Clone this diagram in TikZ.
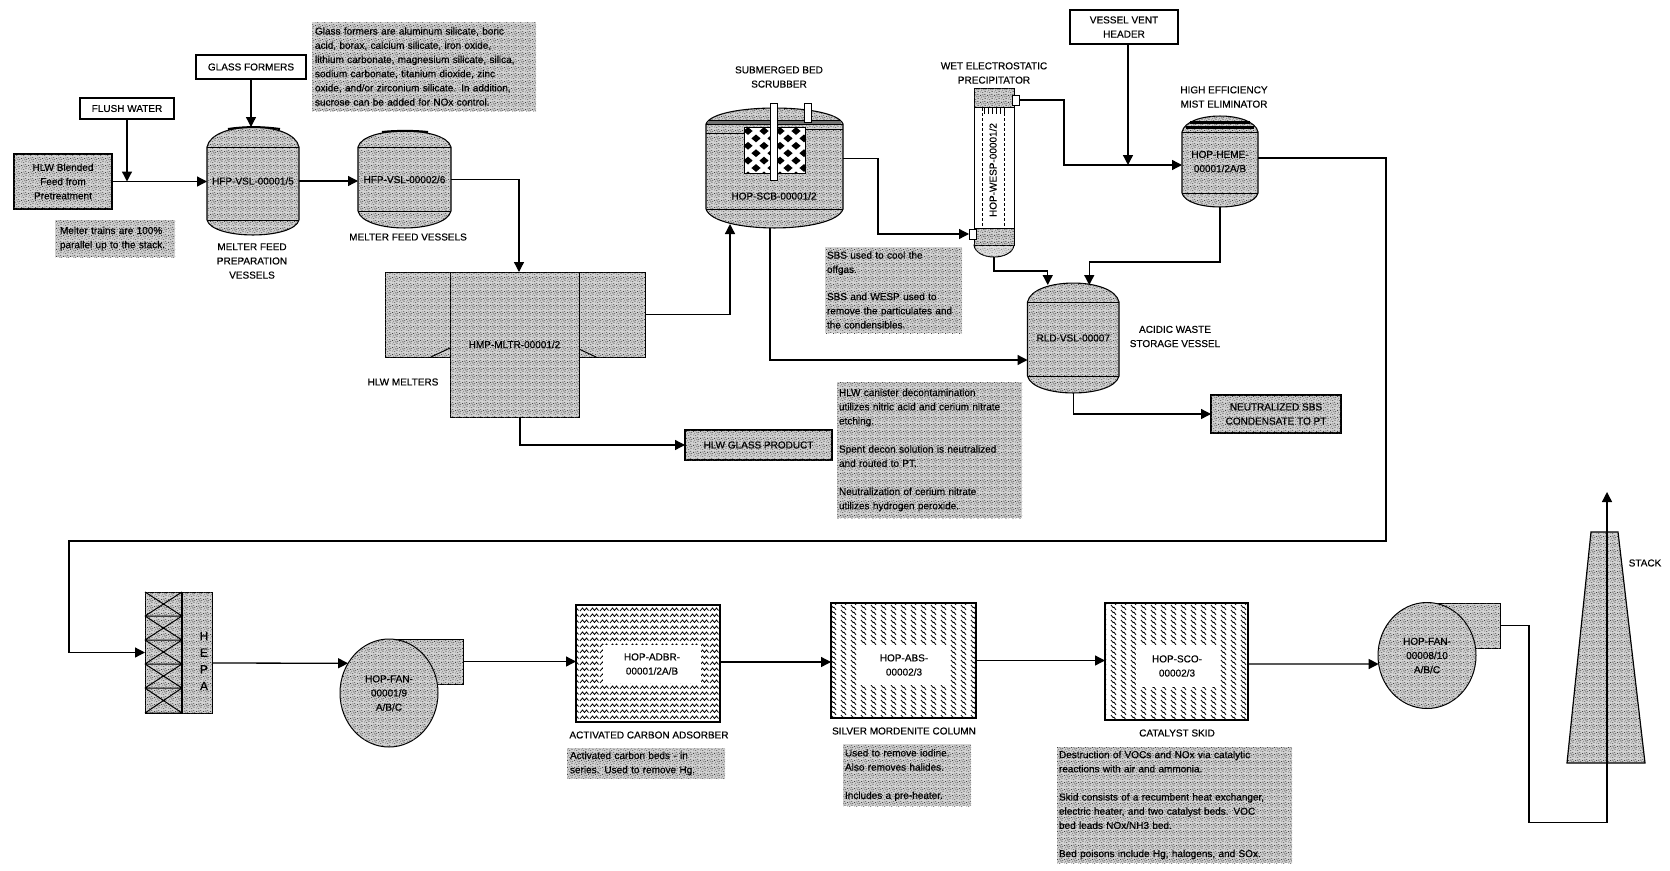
\documentclass[tikz,border=0pt]{standalone}
\usepackage{fontspec}
\setmainfont[FakeBold=0.35]{Liberation Sans}
\usetikzlibrary{arrows.meta,patterns,shapes.geometric,calc}
\definecolor{stipbase}{gray}{0.82}
\definecolor{lightbase}{gray}{0.88}
\pgfdeclarepatternformonly{speck}{\pgfqpoint{0pt}{0pt}}{\pgfqpoint{7pt}{7pt}}{\pgfqpoint{7pt}{7pt}}{%
  \pgfpathrectangle{\pgfqpoint{0.3pt}{0.6pt}}{\pgfqpoint{1pt}{1pt}}%
  \pgfpathrectangle{\pgfqpoint{2.6pt}{0.1pt}}{\pgfqpoint{1pt}{1pt}}%
  \pgfpathrectangle{\pgfqpoint{5.2pt}{1.3pt}}{\pgfqpoint{1pt}{1pt}}%
  \pgfpathrectangle{\pgfqpoint{1.5pt}{2.6pt}}{\pgfqpoint{1pt}{1pt}}%
  \pgfpathrectangle{\pgfqpoint{3.9pt}{3.1pt}}{\pgfqpoint{1pt}{1pt}}%
  \pgfpathrectangle{\pgfqpoint{6.0pt}{3.6pt}}{\pgfqpoint{1pt}{1pt}}%
  \pgfpathrectangle{\pgfqpoint{0.2pt}{4.6pt}}{\pgfqpoint{1pt}{1pt}}%
  \pgfpathrectangle{\pgfqpoint{2.7pt}{5.1pt}}{\pgfqpoint{1pt}{1pt}}%
  \pgfpathrectangle{\pgfqpoint{4.9pt}{5.7pt}}{\pgfqpoint{1pt}{1pt}}%
  \pgfusepath{fill}}
\pgfdeclarepatternformonly{wavyH}{\pgfqpoint{-1pt}{-2pt}}{\pgfqpoint{11pt}{8pt}}{\pgfqpoint{10pt}{6pt}}{%
  \pgfsetlinewidth{0.8pt}%
  \pgfpathmoveto{\pgfqpoint{0pt}{1pt}}%
  \pgfpathlineto{\pgfqpoint{2.5pt}{4pt}}%
  \pgfpathlineto{\pgfqpoint{4.5pt}{1.5pt}}%
  \pgfpathlineto{\pgfqpoint{6.5pt}{4pt}}%
  \pgfpathlineto{\pgfqpoint{8.5pt}{1.5pt}}%
  \pgfusepath{stroke}}
\pgfdeclarepatternformonly{wavyV}{\pgfqpoint{-1pt}{-1pt}}{\pgfqpoint{11pt}{6pt}}{\pgfqpoint{10pt}{5pt}}{%
  \pgfsetlinewidth{0.8pt}%
  \pgfpathmoveto{\pgfqpoint{1pt}{5pt}}%
  \pgfpathlineto{\pgfqpoint{3pt}{2.5pt}}%
  \pgfpathlineto{\pgfqpoint{4pt}{2.8pt}}%
  \pgfpathlineto{\pgfqpoint{6pt}{0pt}}%
  \pgfusepath{stroke}}
\tikzset{
  txt/.style={font=\fontsize{10}{14.2}\selectfont,align=center,inner sep=0pt,outer sep=0pt},
  stipple/.style={fill=stipbase,postaction={pattern=speck,pattern color=black!75}},
  lightstip/.style={fill=lightbase,postaction={pattern=speck,pattern color=black!45}},
  sized/.style 2 args={minimum width=#1,minimum height=#2},
  plainbox/.style={txt,draw=black,line width=1.2pt,fill=white},
  heavybox/.style={txt,draw=black,line width=2.6pt,stipple},
  notebox/.style={font=\fontsize{10}{14.2}\selectfont,align=left,inner sep=0pt,outer sep=0pt,anchor=north west,stipple},
  equip/.style={txt,draw=black,line width=1pt,stipple},
  ghost/.style={txt},
  nozzle/.style={draw=black,line width=1pt,fill=white,inner sep=0pt,outer sep=0pt},
  flow/.style={draw=black,line width=1.3pt,-{Triangle[length=10pt,width=10pt]}},
  pipe/.style={draw=black,line width=1.3pt},
  hatchA/.style={txt,draw=black,line width=1.5pt,pattern=wavyH},
  hatchB/.style={txt,draw=black,line width=1.5pt,pattern=wavyV},
  clearbox/.style={txt,fill=white},
}
% name, x1, x2, ytop, yshoulder, yknuckle, ybottom, text
\newcommand{\vsl}[8]{%
  \path[draw=black,line width=1.1pt,stipple]
    (#2,#5) .. controls ({#2+0.06*(#3-#2)},{#5-(#5-#4)*1.33}) and ({#3-0.06*(#3-#2)},{#5-(#5-#4)*1.33}) .. (#3,#5)
    -- (#3,#6) .. controls ({#3-0.06*(#3-#2)},{#6+(#7-#6)*1.33}) and ({#2+0.06*(#3-#2)},{#6+(#7-#6)*1.33}) .. (#2,#6) -- cycle;
  \draw[line width=1pt] (#2,#5) -- (#3,#5) (#2,#6) -- (#3,#6);
  \node[ghost,sized={#3-#2}{#7-#4}] (#1) at ({(#2+#3)/2},{(#4+#7)/2}) {#8};
}
\begin{document}
\begin{tikzpicture}[x=1pt,y=-1pt]
\useasboundingbox[fill=white] (0,0) rectangle (1670,870);

% feed boxes
\node[plainbox,sized={110}{24}] (glass) at (251,67) {GLASS FORMERS};
\node[plainbox,sized={94}{21}] (flush) at (127,108.5) {FLUSH WATER};
\node[heavybox,sized={98}{55}] (hlw) at (63,181.5) {HLW Blended\\Feed from\\Pretreatment};
\node[notebox,sized={120}{37},text width=116pt] (n1) at (55,220) {\hspace*{3pt}Melter trains are 100\%\\\hspace*{3pt}parallel up to the stack.};
\node[notebox,sized={224}{89},text width=224pt] (n2) at (312,22) {\hspace*{3pt}Glass formers are aluminum silicate, boric\\\hspace*{3pt}acid, borax, calcium silicate, iron oxide,\\\hspace*{3pt}lithium carbonate, magnesium silicate, silica,\\\hspace*{3pt}sodium carbonate, titanium dioxide, zinc\\\hspace*{3pt}oxide, and/or zirconium silicate.  In addition,\\\hspace*{3pt}sucrose can be added for NOx control.};

% melter feed vessels
\vsl{hfpa}{207}{299}{127}{147}{220}{235}{HFP-VSL-00001/5}
\draw[line width=2pt] (228,129) .. controls (245,126.5) and (262,126.5) .. (280,129);
\vsl{hfpb}{358}{451}{131}{147}{211}{228}{HFP-VSL-00002/6}
\draw[line width=2pt] (382,132) .. controls (395,130.5) and (415,130.5) .. (428,132);
\node[txt] (l1) at (252,261) {MELTER FEED\\PREPARATION\\VESSELS};
\node[txt] (l2) at (408,237) {MELTER FEED VESSELS};

% melter
\node[equip,sized={260}{85}] (melterout) at (515,314.5) {};
\draw[line width=1pt] (431,357) -- (450,348) (579,349) -- (596,357);
\node[equip,sized={129}{145}] (melter) at (514.5,344.5) {HMP-MLTR-00001/2};
\node[txt] (l3) at (403,382) {HLW MELTERS};

% scrubber
\vsl{scrub}{706}{843}{108}{124}{209}{228}{}
\fill[black!55] (708,120) rectangle (841,124);
\draw[line width=.8pt] (708,120) -- (841,120);
\draw[line width=.8pt] (706,133) -- (744,133) (805,129) -- (843,129);
\node[txt] (scrubtext) at (774,196) {HOP-SCB-00001/2};
\node[txt] (l4) at (779,77) {SUBMERGED BED\\SCRUBBER};
\fill[white] (744,127) rectangle (805,173);
\begin{scope}
  \clip (744,127) rectangle (805,173);
  \foreach \i in {0,...,6}{
    \foreach \j in {0,...,4}{
      \pgfmathsetmacro{\cxx}{748+\j*16+mod(\i,2)*8}
      \pgfmathsetmacro{\cyy}{131+\i*7.4}
      \fill[black] (\cxx-4.6,\cyy) -- (\cxx,\cyy-3.9) -- (\cxx+4.6,\cyy) -- (\cxx,\cyy+3.9) -- cycle;
    }
  }
\end{scope}
\draw[line width=1pt] (744,127) rectangle (805,173);
\node[nozzle,sized={7}{77}] (tubea) at (773.5,141.5) {};
\node[nozzle,sized={7}{19}] (tubeb) at (807.5,112.5) {};

% wesp
\path[draw=black,line width=1pt,lightstip] (974,245) .. controls (976,261) and (1012,261) .. (1014,245) -- cycle;
\path[draw=black,line width=1pt,stipple] (974,228) rectangle (1014,245);
\path[draw=black,line width=1pt,fill=white] (974,107) rectangle (1014,228);
\path[draw=black,line width=1pt,stipple] (974,88) rectangle (1014,107);
\draw[densely dashed,line width=.7pt] (982.5,108) -- (982.5,228) (1004,108) -- (1004,228);
\foreach \xx in {984,988,...,1004}{\draw[line width=.8pt] (\xx,107) -- (\xx,114);}
\node[ghost,sized={40}{169}] (wesp) at (994,172.5) {};
\node[txt,rotate=90] (wesptext) at (993,170) {HOP-WESP-00001/2};
\node[nozzle,sized={7}{10}] (nozlow) at (972.5,234) {};
\node[nozzle,sized={7}{10}] (nozup) at (1015.5,100) {};
\node[txt] (l5) at (994,73) {WET ELECTROSTATIC\\PRECIPITATOR};

% heme
\vsl{heme}{1182}{1258}{116}{132}{193}{207}{HOP-HEME-\\00001/2A/B}
\fill[black] (1190,121) rectangle (1250,123.5);
\fill[black] (1186,126) rectangle (1254,128.5);
\node[txt] (l6) at (1224,97) {HIGH EFFICIENCY\\MIST ELIMINATOR};
\node[plainbox,sized={108}{34}] (vent) at (1124,27) {VESSEL VENT\\HEADER};

% rld
\vsl{rld}{1027.5}{1119}{283}{302}{376}{393}{RLD-VSL-00007}
\node[txt] (l7) at (1175,336.5) {ACIDIC WASTE\\STORAGE VESSEL};
\node[heavybox,sized={130}{38}] (neut) at (1276,414) {NEUTRALIZED SBS\\CONDENSATE TO PT};
\node[heavybox,sized={147}{30}] (prod) at (758.5,445) {HLW GLASS PRODUCT};
\node[notebox,sized={137}{86},text width=137pt] (n3) at (825,247) {\hspace*{2pt}SBS used to cool the\\\hspace*{2pt}offgas.\\[13pt]\hspace*{2pt}SBS and WESP used to\\\hspace*{2pt}remove the particulates and\\\hspace*{2pt}the condensibles.};
\node[notebox,sized={185}{136},text width=185pt] (n4) at (837,382) {\hspace*{2pt}HLW canister decontamination\\\hspace*{2pt}utilizes nitric acid and cerium nitrate\\\hspace*{2pt}etching.\\[14pt]\hspace*{2pt}Spent decon solution is neutralized\\\hspace*{2pt}and routed to PT.\\[14pt]\hspace*{2pt}Neutralization of cerium nitrate\\\hspace*{2pt}utilizes hydrogen peroxide.};

% hepa
\node[equip,sized={67}{121}] (hepa) at (178.5,652.5) {};
\draw[line width=1.1pt] (182,592) -- (182,713);
\foreach \ya/\yb in {592/616,616/640,640/664,664/688,688/713}{
  \draw[line width=1pt] (145,\ya) -- (182,\yb) (145,\yb) -- (182,\ya) (145,\yb) -- (182,\yb);
}
\node[txt,font=\fontsize{12}{16.7}\selectfont] (hepatext) at (204,661) {H\\E\\P\\A};

% fan 1
\node[equip,sized={74}{45}] (ducta) at (426,661.5) {};
\node[equip,ellipse,sized={98}{108}] (fana) at (389,693) {HOP-FAN-\\00001/9\\A/B/C};

% adsorbers
\node[hatchA,sized={144}{117}] (adbr) at (648,663.5) {};
\node[clearbox,sized={98}{38}] (adbrt) at (652,664) {HOP-ADBR-\\00001/2A/B};
\node[txt] (l8) at (649,735) {ACTIVATED CARBON ADSORBER};
\node[notebox,sized={158}{31},text width=158pt] (n5) at (567,748) {\hspace*{3pt}Activated carbon beds - in\\\hspace*{3pt}series.  Used to remove Hg.};

\node[hatchB,sized={145}{115}] (abs) at (903.5,660.5) {};
\node[clearbox,sized={88}{40}] (abst) at (904,665) {HOP-ABS-\\00002/3};
\node[txt] (l9) at (904,731) {SILVER MORDENITE COLUMN};
\node[notebox,sized={128}{62},text width=128pt] (n6) at (843,744) {\hspace*{2pt}Used to remove iodine.\\\hspace*{2pt}Also removes halides.\\[14pt]\hspace*{2pt}Includes a pre-heater.};

\node[hatchB,sized={143}{117}] (sco) at (1176.5,661.5) {};
\node[clearbox,sized={82}{42}] (scot) at (1177,666) {HOP-SCO-\\00002/3};
\node[txt] (l10) at (1177,733) {CATALYST SKID};
\node[notebox,sized={235}{116},text width=235pt] (n7) at (1057,747) {\hspace*{2pt}Destruction of VOCs and NOx via catalytic\\\hspace*{2pt}reactions with air and ammonia.\\[14pt]\hspace*{2pt}Skid consists of a recumbent heat exchanger,\\\hspace*{2pt}electric heater, and two catalyst beds.  VOC\\\hspace*{2pt}bed leads NOx/NH3 bed.\\[14pt]\hspace*{2pt}Bed poisons include Hg, halogens, and SOx.};

% fan 2
\node[equip,sized={73}{45}] (ductb) at (1463.5,625.5) {};
\node[equip,ellipse,sized={98}{106}] (fanb) at (1427,655.5) {HOP-FAN-\\00008/10\\A/B/C};

% stack
\path[draw=black,line width=1.2pt,stipple] (1591,532) -- (1618,532) -- (1645,763) -- (1567,763) -- cycle;
\node[txt] (l11) at (1645,563) {STACK};
\coordinate (stacktop) at (1607,492);

% connectors
\draw[flow] (hlw.east) -- (hlw.east -| hfpa.west);
\draw[flow] (flush.south) -- (flush.south |- hlw.east);
\draw[flow] (glass.south) -- (glass.south |- hfpa.north);
\draw[flow] (hfpa.east) -- (hfpa.east -| hfpb.west);
\draw[flow] (hfpb.east) -| ([xshift=4.5pt]melter.north);
\draw[flow] (melterout.east) -| ([xshift=-44.5pt,yshift=4pt]scrub.south);
\draw[flow] ([xshift=-4.5pt]scrub.south) |- ([yshift=-22pt]rld.west);
\draw[flow] ([yshift=9.5pt]scrub.east) -- ++(35,0) |- (nozlow.west);
\draw[flow] (nozup.east) -- ++(45,0) |- ([yshift=-3.5pt]heme.west);
\draw[flow] ([xshift=4pt]vent.south) -- ([xshift=4pt]vent.south |- 0,165);
\draw[flow] (heme.south) -- ++(0,55) -| ([xshift=16pt,yshift=-2pt]rld.north);
\draw[flow] (wesp.south) -- ++(0,14) -| ([xshift=-25.5pt,yshift=-2pt]rld.north);
\draw[flow] (rld.south) |- (neut.west);
\draw[flow] ([xshift=5.5pt]melter.south) |- (prod.west);
\draw[flow] ([yshift=3.5pt]heme.east) -- ++(128,0) -- ++(0,383) -- ++(-1317,0) |- (hepa.west);
\draw[flow] ([yshift=-10.5pt]hepa.east) -- (fana.144);
\draw[flow] (ducta.east) -- (ducta.east -| adbr.west);
\draw[flow] ([yshift=1.5pt]adbr.east) -- ([yshift=1.5pt]adbr.east -| abs.west);
\draw[flow] (abs.east) -- (abs.east -| sco.west);
\draw[flow] ([yshift=-2.5pt]sco.east) -- (fanb.190);
\draw[flow] (ductb.east) -- ++(29,0) -- ++(0,197) -| (stacktop);
\end{tikzpicture}
\end{document}
